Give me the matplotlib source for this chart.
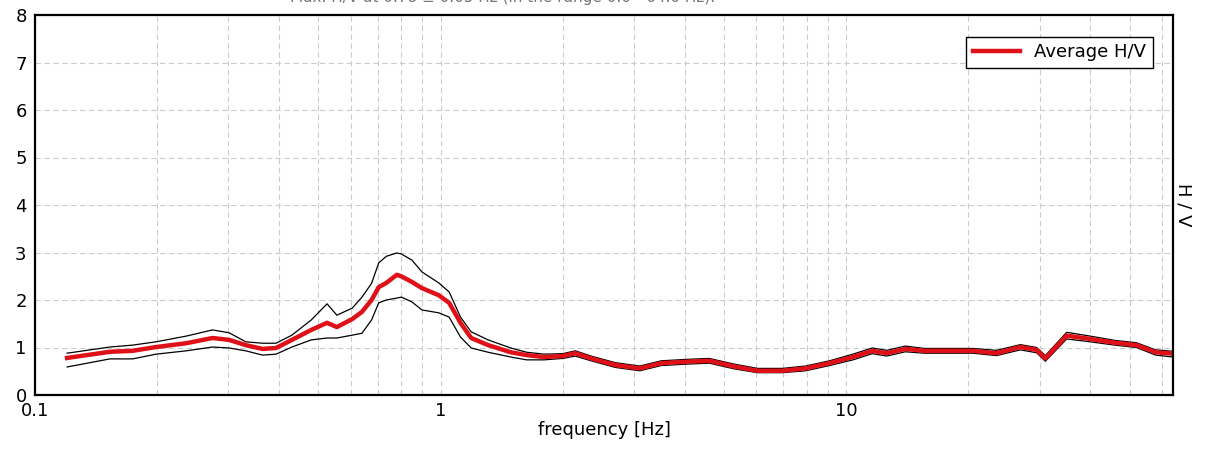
import matplotlib
matplotlib.use('Agg')
import matplotlib.pyplot as plt
from matplotlib.ticker import LogLocator, NullFormatter

plt.rcParams['font.family'] = ['DejaVu Sans']

TITLE = 'Max. H/V at 0.78 \u00b1 0.05 Hz (in the range 0.0 - 64.0 Hz).'

freq = [0.12, 0.153, 0.174, 0.199, 0.236, 0.274, 0.301, 0.331, 0.364, 0.393,
        0.43, 0.48, 0.525, 0.555, 0.606, 0.64, 0.676, 0.704, 0.735, 0.78,
        0.80, 0.85, 0.90, 0.99, 1.05, 1.12, 1.19, 1.31, 1.49, 1.63,
        1.8, 2.0, 2.15, 2.35, 2.7, 3.1, 3.5, 4.04, 4.6, 5.3,
        6.05, 6.96, 7.95, 9.1, 10.4, 11.6, 12.6, 14.0, 15.6, 20.5,
        23.5, 26.9, 29.5, 31.0, 35.0, 40.0, 46.0, 52.0, 58.0, 64.0]

hv_avg = [0.78, 0.91, 0.93, 1.01, 1.09, 1.2, 1.16, 1.05, 0.97, 0.99,
          1.16, 1.37, 1.52, 1.43, 1.6, 1.75, 2.0, 2.27, 2.36, 2.53,
          2.5, 2.38, 2.25, 2.1, 1.94, 1.52, 1.2, 1.05, 0.9, 0.84,
          0.8, 0.82, 0.88, 0.77, 0.63, 0.56, 0.67, 0.7, 0.72, 0.6,
          0.51, 0.51, 0.56, 0.67, 0.8, 0.93, 0.88, 0.97, 0.93, 0.93,
          0.88, 1.01, 0.95, 0.77, 1.25, 1.18, 1.1, 1.05, 0.9, 0.87]

hv_upper = [0.88, 1.01, 1.05, 1.12, 1.24, 1.37, 1.31, 1.12, 1.09, 1.09,
            1.26, 1.58, 1.92, 1.68, 1.83, 2.06, 2.35, 2.78, 2.92, 2.99,
            2.97, 2.84, 2.59, 2.36, 2.17, 1.64, 1.33, 1.16, 0.99, 0.9,
            0.86, 0.87, 0.93, 0.82, 0.68, 0.61, 0.72, 0.75, 0.77, 0.65,
            0.56, 0.56, 0.61, 0.72, 0.86, 0.99, 0.94, 1.03, 0.98, 0.98,
            0.94, 1.06, 1.0, 0.83, 1.32, 1.24, 1.15, 1.1, 0.95, 0.92]

hv_lower = [0.59, 0.76, 0.76, 0.86, 0.93, 1.01, 0.99, 0.93, 0.84, 0.86,
            1.01, 1.16, 1.2, 1.2, 1.26, 1.3, 1.58, 1.94, 2.0, 2.04,
            2.06, 1.96, 1.79, 1.73, 1.64, 1.22, 0.99, 0.9, 0.8, 0.74,
            0.74, 0.77, 0.82, 0.72, 0.58, 0.51, 0.62, 0.65, 0.67, 0.55,
            0.47, 0.47, 0.51, 0.62, 0.74, 0.87, 0.82, 0.91, 0.88, 0.88,
            0.83, 0.95, 0.89, 0.71, 1.18, 1.12, 1.05, 1.0, 0.84, 0.8]

assert len(freq) == len(hv_avg) == len(hv_upper) == len(hv_lower)

W, H = 1213, 453
fig = plt.figure(figsize=(W / 100, H / 100), dpi=100)
ax = fig.add_axes([35 / W, 1 - 395 / H, (1173 - 35) / W, 380 / H])

ax.plot(freq, hv_upper, color='black', lw=0.9)
ax.plot(freq, hv_lower, color='black', lw=0.9)
ax.plot(freq, hv_avg, color='#e01018', lw=3.2, label='Average H/V')

ax.set_xscale('log')
ax.set_xlim(0.1, 64)
ax.set_ylim(0, 8)
ax.set_xticks([0.1, 1, 10])
ax.set_xticklabels(['0.1', '1', '10'])
ax.xaxis.set_minor_locator(LogLocator(base=10, subs=range(2, 10)))
ax.xaxis.set_minor_formatter(NullFormatter())
ax.set_yticks(range(0, 9))

ax.grid(True, which='both', axis='x', linestyle=(0, (5, 3)), color='#cccccc', lw=0.8)
ax.grid(True, which='major', axis='y', linestyle=(0, (5, 3)), color='#cccccc', lw=0.8)
ax.tick_params(which='both', length=0, labelsize=13)
ax.tick_params(axis='y', pad=6)
ax.tick_params(axis='x', pad=5)

for s in ax.spines.values():
    s.set_linewidth(1.6)
    s.set_color('black')

ax.set_xlabel('frequency [Hz]', fontsize=13, labelpad=1)
ax.yaxis.set_label_position('right')
ax.set_ylabel('H / V', rotation=-90, fontsize=13, labelpad=14)

leg = ax.legend(loc='upper right', bbox_to_anchor=(0.982, 0.942), borderaxespad=0,
                fancybox=False, edgecolor='black', framealpha=1, fontsize=13,
                handlelength=2.6, borderpad=0.35)
leg.get_frame().set_linewidth(1.0)

fig.text(0.414, 1 - 2 / H, TITLE, ha='center', va='baseline', fontsize=11,
         color='#777777')

fig.savefig('out.png', dpi=100, facecolor='white')
